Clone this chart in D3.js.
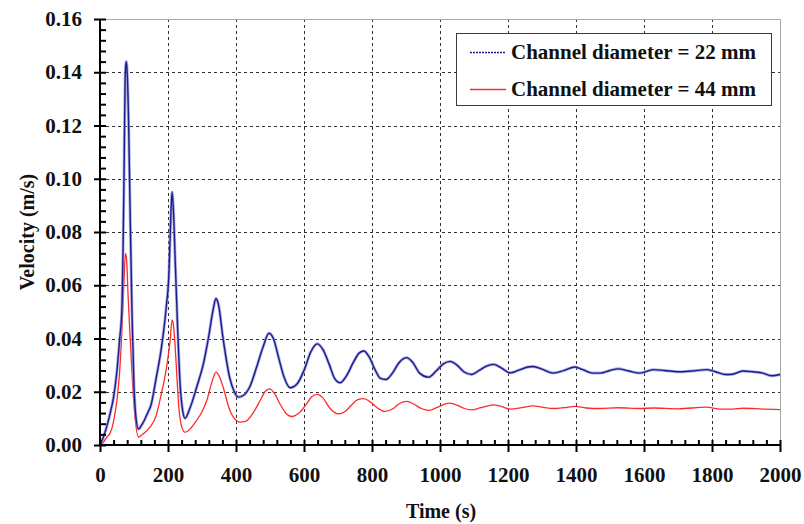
<!DOCTYPE html>
<html>
<head>
<meta charset="utf-8">
<script src="https://cdn.jsdelivr.net/npm/d3@7"></script>
</head>
<body style="margin:0">
<svg id="chart" width="804" height="524"></svg>
<script>
// Flow velocity versus time for two channel diameters
const seriesNames = ["Channel diameter = 22 mm", "Channel diameter = 44 mm"];

const time22 = [0, 10, 20, 30, 40, 50, 58, 64, 68, 71, 74, 77, 80, 84, 88, 94, 100, 106, 113, 125, 140, 150, 165, 180, 195, 203, 208, 212, 216, 221, 228, 236, 243, 250, 265, 285, 305, 320, 333, 341, 348, 362, 382, 395, 406, 420, 441, 460, 480, 497, 510, 525, 540, 559, 580, 600, 620, 639, 655, 675, 690, 706, 725, 745, 762, 776, 792, 810, 825, 841, 860, 880, 902, 920, 940, 966, 990, 1010, 1030, 1050, 1070, 1093, 1115, 1135, 1157, 1180, 1206, 1230, 1255, 1274, 1300, 1333, 1365, 1397, 1420, 1450, 1471, 1500, 1524, 1555, 1588, 1627, 1660, 1700, 1740, 1784, 1810, 1840, 1860, 1891, 1920, 1950, 1975, 2000];
const vel22 = [0, 0.003, 0.007, 0.012, 0.018, 0.028, 0.040, 0.050, 0.075, 0.105, 0.138, 0.144, 0.140, 0.122, 0.092, 0.050, 0.022, 0.010, 0.006, 0.008, 0.012, 0.015, 0.025, 0.036, 0.052, 0.065, 0.085, 0.095, 0.088, 0.070, 0.045, 0.022, 0.013, 0.010, 0.014, 0.022, 0.031, 0.041, 0.051, 0.055, 0.053, 0.040, 0.025, 0.020, 0.018, 0.0185, 0.022, 0.029, 0.037, 0.042, 0.040, 0.033, 0.026, 0.0215, 0.023, 0.028, 0.035, 0.038, 0.036, 0.030, 0.025, 0.0234, 0.026, 0.031, 0.0345, 0.0353, 0.033, 0.028, 0.025, 0.0246, 0.027, 0.031, 0.0328, 0.031, 0.027, 0.0255, 0.028, 0.0305, 0.0314, 0.030, 0.0275, 0.0265, 0.028, 0.0295, 0.0303, 0.029, 0.0271, 0.028, 0.0292, 0.0295, 0.0285, 0.027, 0.028, 0.0293, 0.0283, 0.027, 0.027, 0.028, 0.0286, 0.0278, 0.027, 0.0283, 0.028, 0.0275, 0.0278, 0.0283, 0.0275, 0.0265, 0.0266, 0.0278, 0.0275, 0.027, 0.026, 0.0265];

const time44 = [0, 10, 20, 30, 40, 50, 58, 64, 70, 75, 78, 83, 88, 95, 103, 113, 125, 147, 165, 176, 190, 198, 206, 212, 216, 221, 226, 232, 240, 250, 265, 284, 300, 314, 330, 341, 350, 362, 382, 395, 412, 430, 450, 471, 485, 499, 515, 529, 545, 564, 585, 605, 622, 639, 655, 675, 701, 720, 740, 758, 776, 795, 815, 838, 860, 880, 902, 925, 945, 968, 990, 1010, 1029, 1050, 1070, 1093, 1120, 1157, 1180, 1206, 1240, 1274, 1300, 1335, 1365, 1397, 1430, 1471, 1524, 1588, 1627, 1700, 1784, 1824, 1860, 1891, 1950, 2000];
const vel44 = [0, 0.001, 0.003, 0.0045, 0.009, 0.017, 0.028, 0.042, 0.060, 0.072, 0.070, 0.055, 0.042, 0.025, 0.0105, 0.003, 0.004, 0.0067, 0.011, 0.0167, 0.025, 0.031, 0.039, 0.047, 0.045, 0.037, 0.026, 0.014, 0.007, 0.0048, 0.006, 0.0092, 0.0125, 0.0167, 0.024, 0.0274, 0.026, 0.0218, 0.013, 0.010, 0.0086, 0.009, 0.012, 0.0167, 0.020, 0.0211, 0.019, 0.0155, 0.0122, 0.0107, 0.012, 0.015, 0.018, 0.019, 0.0178, 0.014, 0.0117, 0.0125, 0.015, 0.017, 0.0174, 0.0162, 0.014, 0.0126, 0.0135, 0.0155, 0.0164, 0.0152, 0.0137, 0.013, 0.014, 0.0152, 0.0157, 0.015, 0.0138, 0.0132, 0.014, 0.0151, 0.0145, 0.0135, 0.014, 0.0147, 0.0142, 0.0137, 0.014, 0.0145, 0.0139, 0.0137, 0.014, 0.0137, 0.0139, 0.0136, 0.0142, 0.0135, 0.0135, 0.0138, 0.0135, 0.0133];

const xMajor = [0, 200, 400, 600, 800, 1000, 1200, 1400, 1600, 1800, 2000];
const yMajor = [0.00, 0.02, 0.04, 0.06, 0.08, 0.10, 0.12, 0.14, 0.16];
const xMinorStep = 40;
const yMinorStep = 0.004;

(function () {
  const svg = d3.select("#chart");
  const pL = 100, pR = 780, pT = 19, pB = 445;

  const x = d3.scaleLinear().domain([0, 2000]).range([pL, pR]);
  const y = d3.scaleLinear().domain([0, 0.16]).range([pB, pT]);

  const xMinor = d3.range(0, 2000 + 1e-9, xMinorStep).filter(v => !xMajor.includes(v));
  const yMinor = d3.range(0, 0.16 + 1e-9, yMinorStep).map(v => +v.toFixed(3))
    .filter(v => !yMajor.some(m => Math.abs(m - v) < 1e-9));

  function label(sel, size) {
    return sel.attr("font-size", size).attr("font-weight", "bold")
      .style("font-family", '"Liberation Serif"').attr("fill", "#111");
  }

  // dashed grid at major ticks
  const grid = svg.append("g").attr("stroke", "#333").attr("stroke-width", 1).attr("stroke-dasharray", "3,3");
  grid.selectAll("line.v").data(xMajor.slice(1, -1)).join("line")
    .attr("x1", d => Math.round(x(d)) + 0.5).attr("x2", d => Math.round(x(d)) + 0.5)
    .attr("y1", pT).attr("y2", pB);
  grid.selectAll("line.h").data(yMajor.slice(1, -1)).join("line")
    .attr("y1", d => Math.round(y(d)) + 0.5).attr("y2", d => Math.round(y(d)) + 0.5)
    .attr("x1", pL).attr("x2", pR);

  // light frame on top and right
  svg.append("path")
    .attr("d", `M${pL},${pT + 0.5}H${pR + 0.5}V${pB}`)
    .attr("fill", "none").attr("stroke", "#a8a8a8").attr("stroke-width", 1);

  // series
  const line = d3.line().x(d => x(d[0])).y(d => y(d[1])).curve(d3.curveMonotoneX);
  const data22 = time22.map((t, i) => [t, vel22[i]]);
  const data44 = time44.map((t, i) => [t, vel44[i]]);

  svg.append("path").datum(data44).attr("d", line)
    .attr("fill", "none").attr("stroke", "#ff2a2a").attr("stroke-width", 1.3);
  svg.append("path").datum(data22).attr("d", line)
    .attr("fill", "none").attr("stroke", "#8a8ad6").attr("stroke-width", 3).attr("stroke-opacity", 0.7);
  svg.append("path").datum(data22).attr("d", line)
    .attr("fill", "none").attr("stroke", "#1c1c8e").attr("stroke-width", 1.4);

  // axes
  function styleAxis(g) {
    g.attr("font-family", null).attr("font-size", null);
    g.select(".domain").remove();
    g.selectAll(".tick line").attr("stroke", "#000").attr("stroke-width", 2);
    g.selectAll("text").call(label, 21);
  }

  // y axis: major ticks cross the axis line, minor ticks inside
  svg.append("g").attr("transform", `translate(${pL},0)`)
    .call(d3.axisLeft(y).tickValues(yMajor).tickSize(6).tickPadding(12).tickFormat(d3.format(".2f")))
    .call(styleAxis);
  svg.append("g").attr("transform", `translate(${pL},0)`)
    .call(d3.axisLeft(y).tickValues(yMajor).tickSize(-6).tickFormat(""))
    .call(styleAxis);
  svg.append("g").attr("transform", `translate(${pL},0)`)
    .call(d3.axisLeft(y).tickValues(yMinor).tickSize(-6).tickFormat(""))
    .call(styleAxis);

  // x axis
  svg.append("g").attr("transform", `translate(0,${pB})`)
    .call(d3.axisBottom(x).tickValues(xMajor).tickSize(7).tickPadding(15).tickFormat(d3.format("d")))
    .call(styleAxis);
  svg.append("g").attr("transform", `translate(0,${pB})`)
    .call(d3.axisBottom(x).tickValues(xMajor).tickSize(-5).tickFormat(""))
    .call(styleAxis);
  svg.append("g").attr("transform", `translate(0,${pB})`)
    .call(d3.axisBottom(x).tickValues(xMinor).tickSize(-5).tickFormat(""))
    .call(styleAxis);

  // axis lines
  svg.append("line").attr("x1", pL).attr("x2", pL).attr("y1", pT).attr("y2", pB + 1)
    .attr("stroke", "#000").attr("stroke-width", 2);
  svg.append("line").attr("x1", pL - 1).attr("x2", pR).attr("y1", pB).attr("y2", pB)
    .attr("stroke", "#000").attr("stroke-width", 2);

  // axis titles
  svg.append("text").attr("x", 441).attr("y", 518).attr("text-anchor", "middle")
    .call(label, 20).text("Time (s)");
  svg.append("text").attr("transform", "translate(34,232) rotate(-90)").attr("text-anchor", "middle")
    .call(label, 20).text("Velocity (m/s)");

  // legend
  const legend = svg.append("g");
  legend.append("rect").attr("x", 456.5).attr("y", 33.5).attr("width", 315).attr("height", 72)
    .attr("fill", "#fff").attr("stroke", "#3a3a3a").attr("stroke-width", 1);
  const legendStyles = [
    { color: "#1c1c8e", width: 1.6, dash: "2,1" },
    { color: "#ff2a2a", width: 1.3, dash: null }
  ];
  seriesNames.forEach((name, i) => {
    const cy = 52.5 + i * 37;
    legend.append("line").attr("x1", 470).attr("x2", 506).attr("y1", cy).attr("y2", cy)
      .attr("stroke", legendStyles[i].color).attr("stroke-width", legendStyles[i].width)
      .attr("stroke-dasharray", legendStyles[i].dash);
    legend.append("text").attr("x", 511).attr("y", 59 + i * 37).call(label, 21).text(name);
  });
})();
</script>
</body>
</html>
